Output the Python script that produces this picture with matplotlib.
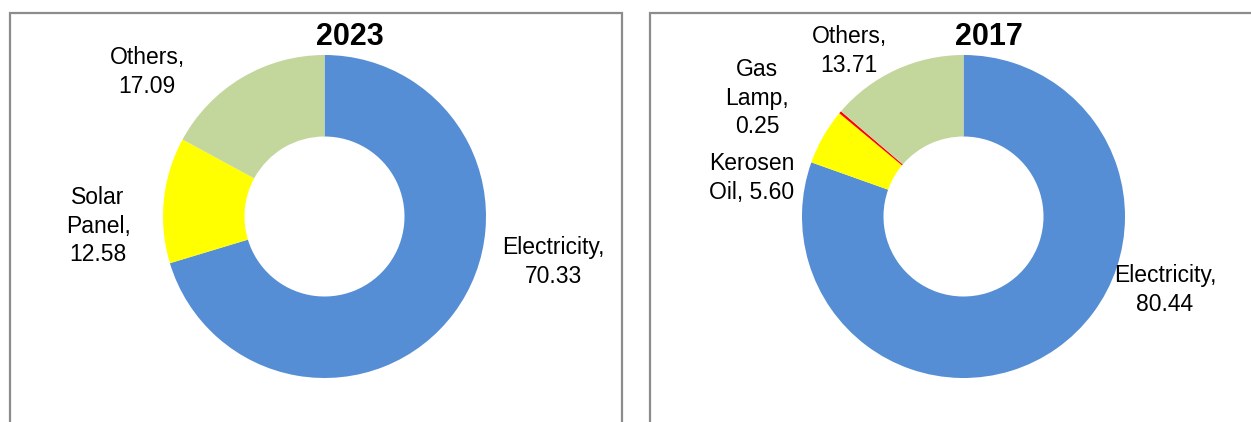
import matplotlib.pyplot as plt
from matplotlib.patches import Rectangle

# data (percent)
titles = ["2023", "2017"]
labels_2023 = ["Electricity", "Solar\nPanel", "Others"]
values_2023 = [70.33, 12.58, 17.09]
colors_2023 = ["#558ED5", "#FFFF00", "#C3D69B"]

labels_2017 = ["Electricity", "Kerosen\nOil", "Gas\nLamp", "Others"]
values_2017 = [80.44, 5.60, 0.25, 13.71]
colors_2017 = ["#558ED5", "#FFFF00", "#FF0000", "#C3D69B"]

# layout, in pixels of the 1251x422 picture (y measured from the top)
W, H = 1251, 422
centers = [(324.5, 216.5), (963.5, 216.5)]
R_OUT, R_IN = 161.5, 80
title_pos = [(349.5, 37), (988.5, 37)]
label_pos_2023 = [(553, 262), (98, 226), (147, 72)]
label_pos_2017 = [(1165, 290), (752, 178), (757, 98), (849, 51)]
panels = [(10, 13, 612), (650, 13, 700)]  # left, top, width

plt.rcParams["font.family"] = ["Liberation Sans", "DejaVu Sans"]

fig = plt.figure(figsize=(W / 100, H / 100), dpi=100)
ax = fig.add_axes([0, 0, 1, 1])

def fy(y):
    return H - y

# panel frames
for left, top, width in panels:
    ax.add_patch(Rectangle((left, -50), width, fy(top) + 50, fill=False,
                           edgecolor="#8C8C8C", linewidth=1.6, clip_on=False))

def label_text(name, value):
    if name == "Kerosen\nOil":
        return f"{name}, {value:.2f}"
    return f"{name},\n{value:.2f}"

charts = [(labels_2023, values_2023, colors_2023, label_pos_2023),
          (labels_2017, values_2017, colors_2017, label_pos_2017)]

for (cx, cy), title, tpos, (labels, values, colors, lpos) in zip(centers, titles, title_pos, charts):
    ax.pie(values, colors=colors, startangle=90, counterclock=False,
           center=(cx, fy(cy)), radius=R_OUT, frame=True,
           wedgeprops=dict(width=R_OUT - R_IN, linewidth=0))
    ax.text(tpos[0], fy(tpos[1]), title, ha="center", va="center",
            fontsize=22, fontweight="bold")
    for name, v, (x, y) in zip(labels, values, lpos):
        ax.text(x, fy(y), label_text(name, v), ha="center", va="center",
                fontsize=16.5, linespacing=1.32)

ax.set_xlim(0, W)
ax.set_ylim(0, H)
ax.set_aspect("auto")
ax.axis("off")

fig.savefig("out.png", dpi=100)
